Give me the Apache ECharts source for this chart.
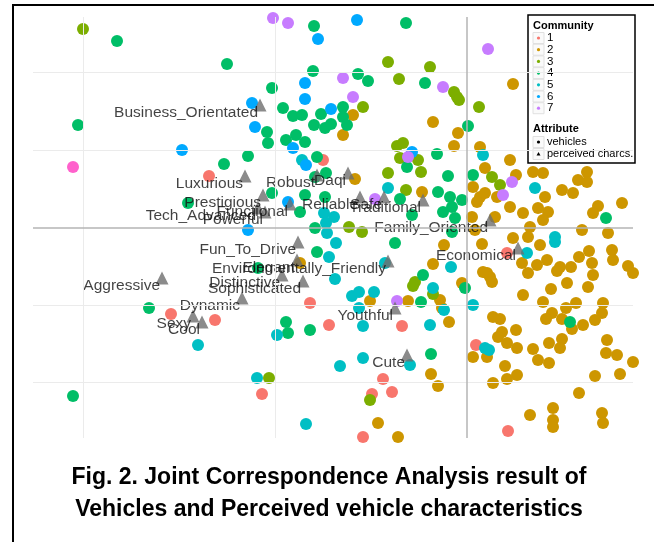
<!DOCTYPE html>
<html><head><meta charset="utf-8">
<script src="https://cdn.jsdelivr.net/npm/echarts/dist/echarts.min.js"></script>
<style>html,body{margin:0;padding:0;background:#fff}#c{width:654px;height:542px}</style>
</head><body><div id="c"></div>
<script>
// ---- DATA (dimension 1, dimension 2 of the joint correspondence analysis) ----
const communityNames = ['1','2','3','4','5','6','7','8'];
const legendCommunities = ['1','2','3','4','5','6','7'];
const community1 = [[-2.58,0.52],[-1.44,0.68],[-2.96,-0.86],[-2.52,-0.92],[-1.57,-0.75],[-1.38,-0.97],[-2.05,-1.66],[-0.65,-0.98],[-0.84,-1.51],[-0.75,-1.64],[-0.95,-1.66],[-1.04,-2.09],[0.09,-1.17],[0.40,-0.25],[0.41,-2.03]];
const community2 = [[-1.14,1.13],[-1.24,0.93],[-0.34,1.06],[-0.09,0.95],[-0.13,0.82],[-1.12,0.49],[-0.45,0.36],[0.05,0.11],[0.08,-0.02],[0.46,1.44],[0.13,0.81],[0.43,0.68],[0.18,0.60],[0.49,0.53],[0.66,0.56],[0.76,0.55],[0.78,0.31],[0.95,0.38],[1.06,0.35],[1.11,0.48],[1.20,0.56],[1.20,0.46],[1.55,0.25],[1.31,0.22],[1.26,0.15],[1.41,-0.05],[1.15,-0.02],[0.71,0.20],[0.81,0.16],[0.76,0.08],[0.63,0.01],[0.43,0.21],[0.13,0.31],[0.06,0.41],[0.18,0.35],[0.10,0.26],[0.30,0.31],[0.28,0.11],[0.56,0.15],[0.46,-0.10],[0.61,-0.09],[-0.97,-0.73],[-0.59,-0.73],[-0.27,-0.72],[-0.25,-0.80],[-0.18,-0.94],[-0.36,-1.46],[-0.29,-1.58],[-0.89,-1.95],[-0.69,-2.09],[-0.34,-0.36],[-0.23,-0.17],[-0.05,-0.55],[-1.67,-0.35],[0.15,-0.16],[0.06,-1.29],[0.20,-1.29],[0.38,-1.38],[0.26,-1.55],[0.40,-1.51],[0.50,-1.47],[0.20,-0.45],[0.23,-0.49],[0.25,-0.54],[0.16,-0.44],[0.56,-0.67],[0.26,-0.89],[0.33,-0.91],[0.35,-1.04],[0.31,-1.09],[0.40,-1.15],[0.49,-1.02],[0.50,-1.20],[0.55,-0.35],[0.61,-0.45],[0.70,-0.37],[0.80,-0.32],[0.73,-0.17],[0.93,-0.39],[0.90,-0.43],[1.04,-0.39],[1.12,-0.29],[1.22,-0.23],[1.25,-0.35],[1.26,-0.47],[1.45,-0.22],[1.46,-0.32],[1.61,-0.38],[1.66,-0.45],[1.00,-0.55],[0.84,-0.61],[1.21,-0.59],[0.76,-0.74],[1.09,-0.75],[1.36,-0.75],[0.99,-0.80],[0.85,-0.85],[1.35,-0.85],[0.79,-0.91],[0.95,-0.91],[1.05,-1.01],[1.16,-0.97],[1.28,-0.92],[0.82,-1.15],[0.95,-1.11],[0.93,-1.20],[0.66,-1.21],[0.71,-1.32],[0.82,-1.35],[1.40,-1.12],[1.39,-1.25],[1.50,-1.27],[1.66,-1.34],[1.28,-1.48],[1.53,-1.46],[1.12,-1.65],[0.63,-1.87],[0.86,-1.80],[0.86,-1.92],[0.86,-1.99],[1.35,-1.85],[1.36,-1.95]];
const community3 = [[-3.84,1.99],[-0.79,1.66],[-0.68,1.49],[-0.37,1.61],[-0.13,1.36],[-0.10,1.31],[-0.08,1.28],[-1.04,1.21],[-0.70,0.82],[-0.64,0.85],[-0.67,0.70],[-0.49,0.68],[-0.79,0.55],[-0.46,0.56],[0.12,1.21],[0.25,0.51],[0.33,0.43],[-0.61,0.38],[-1.18,0.01],[-1.05,-0.04],[-0.34,-0.66],[-0.52,-0.54],[-0.54,-0.58],[-0.97,-1.72],[-1.98,-1.50]];
const community4 = [[-3.50,1.87],[-2.40,1.64],[-3.89,1.03],[-2.43,0.64],[-2.19,0.72],[-2.79,0.25],[-3.18,-0.80],[-3.94,-1.68],[-1.53,2.02],[-1.54,1.57],[-1.95,1.40],[-1.84,1.20],[-1.74,1.12],[-1.65,1.13],[-1.46,1.14],[-1.53,1.03],[-1.42,1.00],[-1.36,1.04],[-2.00,0.96],[-1.99,0.85],[-1.81,0.88],[-1.71,0.93],[-1.62,0.86],[-1.50,0.71],[-1.95,0.35],[-1.67,0.16],[-1.62,0.33],[-1.52,0.51],[-1.41,0.55],[-1.42,0.31],[-1.52,0.00],[-0.61,2.05],[-1.09,1.54],[-0.99,1.47],[-0.42,1.45],[-1.24,1.21],[-1.24,1.11],[-1.20,1.03],[0.01,1.02],[-0.60,0.61],[-0.30,0.74],[-0.19,0.52],[0.06,0.53],[-0.29,0.36],[-0.17,0.31],[-0.15,0.21],[-0.05,0.28],[-0.67,0.29],[-0.24,0.16],[-0.12,0.10],[-0.55,0.13],[-0.72,-0.15],[-0.15,-0.04],[1.39,0.10],[-1.50,-0.24],[-1.57,-1.02],[-0.46,-0.74],[-0.36,-1.26],[-0.44,-0.47],[-0.02,-0.60],[-1.81,-0.94],[-1.79,-1.05],[-2.09,-0.40],[1.03,-0.94]];
const community5 = [[-1.65,0.68],[-1.43,0.15],[-1.33,0.11],[-1.41,0.05],[-1.40,-0.05],[-0.79,0.40],[0.16,0.73],[0.68,0.40],[0.88,-0.09],[-2.69,-1.17],[-1.38,-0.29],[-1.31,-0.15],[-1.32,-0.51],[-1.15,-0.68],[-1.08,-0.64],[-0.93,-0.64],[-1.08,-0.80],[-0.23,-0.82],[-0.37,-0.97],[-1.04,-0.98],[-1.04,-1.30],[-1.27,-1.38],[-0.57,-1.37],[-1.61,-1.96],[-0.34,-0.60],[-0.16,-0.39],[-1.90,-1.07],[-2.10,-1.50],[-0.82,-0.35],[0.06,-0.77],[0.18,-1.20],[0.22,-1.22],[0.60,-0.25],[0.88,-0.14]];
const community6 = [[-2.85,0.78],[-2.19,-0.02],[-1.49,1.89],[-1.62,1.45],[-2.15,1.25],[-1.62,1.29],[-1.36,1.19],[-2.12,1.01],[-1.74,0.80],[-1.61,0.63],[-1.79,0.26],[-1.10,2.08],[-0.55,0.76]];
const community7 = [[-1.94,2.10],[-1.79,2.05],[-1.24,1.50],[-0.24,1.41],[-1.14,1.31],[-0.59,0.71],[0.21,1.79],[0.45,0.46],[0.36,0.33],[-0.92,0.29],[-0.70,-0.73]];
const community8 = [[-3.94,0.61]];
const communityData = [community1,community2,community3,community4,community5,community6,community7,community8];
const communityColors = ['#F8766D','#CD9600','#7CAE00','#00BE67','#00BFC4','#00A9FF','#C77CFF','#FF61CC'];

const attrNames = ['Business_Orientated','Luxurious','Robust','Daqi','Prestigious','Functional','Tech_Advanced','Powerful','Reliable','Safe','Traditional','Family_Oriented','Economical','Fun_To_Drive','Elegant','Environmentally_Friendly','Distinctive','Sophisticated','Aggressive','Dynamic','Sexy','Cool','Youthful','Cute'];
const attrDim1 = [-2.07,-2.22,-1.50,-1.19,-2.04,-1.77,-2.09,-2.02,-1.07,-0.83,-0.44,0.23,0.51,-1.69,-1.70,-0.79,-1.85,-1.64,-3.05,-2.25,-2.74,-2.65,-0.72,-0.60];
const attrDim2 = [1.23,0.52,0.53,0.55,0.33,0.24,0.20,0.16,0.31,0.31,0.28,0.08,-0.20,-0.14,-0.32,-0.33,-0.47,-0.53,-0.50,-0.70,-0.88,-0.94,-0.80,-1.27];

const gridBreaksX = [-3.84,-1.92];
const gridBreaksY = [1.56,0.78,-0.77,-1.54];
const titleLines = ['Fig. 2. Joint Correspondence Analysis result of','Vehicles and Perceived vehicle characteristics'];

// ---- CHART ----
const FONT = 'Liberation Sans, Arial, Helvetica, sans-serif';
const chart = echarts.init(document.getElementById('c'), null, {renderer:'canvas'});

const series = [];
series.push({
  type:'scatter', data:[], z:1, silent:true,
  markLine:{
    silent:true, symbol:['none','none'], label:{show:false}, animation:false,
    data:[
      ...gridBreaksX.map(v=>({xAxis:v, lineStyle:{color:'#ebebeb',width:1,type:'solid'}})),
      ...gridBreaksY.map(v=>({yAxis:v, lineStyle:{color:'#ebebeb',width:1,type:'solid'}})),
      {xAxis:0, lineStyle:{color:'#b5b5b5',width:1.5,type:'solid'}},
      {yAxis:0, lineStyle:{color:'#b5b5b5',width:1.5,type:'solid'}}
    ]
  }
});
communityData.forEach((d,i)=>{
  series.push({
    type:'scatter', name:communityNames[i], data:d, symbol:'circle', symbolSize:12,
    itemStyle:{color:communityColors[i], opacity:1}, clip:true, z:2, silent:true
  });
});
series.push({
  type:'scatter', name:'perceived charcs.', z:3, clip:true, silent:true,
  data: attrNames.map((n,i)=>({name:n, value:[attrDim1[i], attrDim2[i]]})),
  symbol:'triangle', symbolSize:13, itemStyle:{color:'#6e6e6e'},
  label:{show:true, formatter:'{b}', position:[4.5,14.5], align:'right', verticalAlign:'middle',
    fontSize:15.5, fontFamily:FONT, color:'#111'}
});

// legend drawn as graphic
const lg = [];
lg.push({type:'rect', shape:{x:0,y:0,width:107,height:148}, style:{fill:'#fff', stroke:'#000', lineWidth:1.5}});
lg.push({type:'text', x:5, y:11, style:{text:'Community', font:'bold 11px '+FONT, fill:'#000', verticalAlign:'middle'}});
legendCommunities.forEach((lab,i)=>{
  const cy = 23 + i*11.7;
  lg.push({type:'rect', shape:{x:5,y:cy-5.5,width:11,height:11}, style:{fill:'#fafafa', stroke:'#e0e0e0', lineWidth:1}});
  lg.push({type:'circle', shape:{cx:10.5,cy:cy,r:1.6}, style:{fill:communityColors[i]}});
  lg.push({type:'text', x:19, y:cy, style:{text:lab, font:'11.5px '+FONT, fill:'#000', verticalAlign:'middle'}});
});
lg.push({type:'text', x:5, y:114, style:{text:'Attribute', font:'bold 11px '+FONT, fill:'#000', verticalAlign:'middle'}});
lg.push({type:'rect', shape:{x:5,y:121.5,width:11,height:11}, style:{fill:'#fafafa', stroke:'#e0e0e0', lineWidth:1}});
lg.push({type:'circle', shape:{cx:10.5,cy:127,r:1.6}, style:{fill:'#000'}});
lg.push({type:'text', x:19, y:127, style:{text:'vehicles', font:'11px '+FONT, fill:'#000', verticalAlign:'middle'}});
lg.push({type:'rect', shape:{x:5,y:133.5,width:11,height:11}, style:{fill:'#fafafa', stroke:'#e0e0e0', lineWidth:1}});
lg.push({type:'polygon', shape:{points:[[10.5,137],[12.5,140.5],[8.5,140.5]]}, style:{fill:'#000'}});
lg.push({type:'text', x:19, y:139, style:{text:'perceived charcs.', font:'11px '+FONT, fill:'#000', verticalAlign:'middle'}});

chart.setOption({
  animation:false,
  backgroundColor:'#fff',
  grid:{left:33, top:17, width:600, height:421, containLabel:false},
  xAxis:{type:'value', min:-4.34, max:1.66, show:false, splitLine:{show:false}},
  yAxis:{type:'value', min:-2.10, max:2.11, show:false, splitLine:{show:false}},
  title:{text:titleLines.join('\n'), left:324, top:457, textAlign:'center',
    textStyle:{fontSize:23, fontWeight:'bold', fontFamily:FONT, color:'#000', lineHeight:32}},
  series: series,
  graphic:[
    {type:'line', shape:{x1:13,y1:4,x2:13,y2:542}, style:{stroke:'#000', lineWidth:2}, z:100},
    {type:'line', shape:{x1:12,y1:5,x2:654,y2:5}, style:{stroke:'#000', lineWidth:2}, z:100},
    {type:'group', x:528, y:15, z:100, children:lg}
  ]
});
</script></body></html>
